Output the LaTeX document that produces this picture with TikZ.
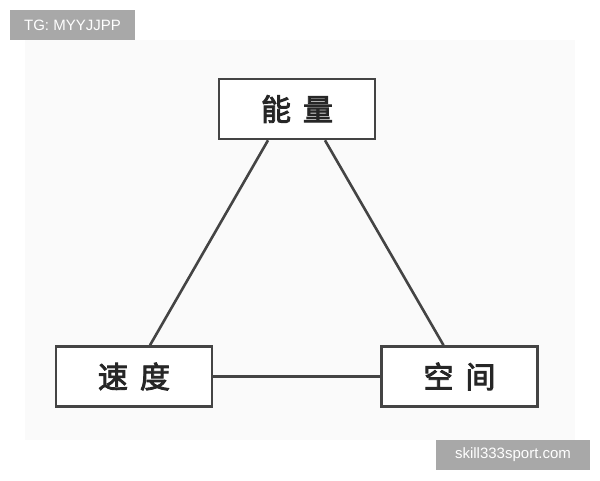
\documentclass[tikz,border=0pt]{standalone}
\usepackage{fontspec}
\newfontfamily\cjk[FakeBold=3]{Noto Sans CJK SC}
\setsansfont{Liberation Sans}
\usetikzlibrary{calc}
\definecolor{ink}{HTML}{444444}
\definecolor{tag}{HTML}{A8A8A8}
\tikzset{
  box/.style={draw=ink, line width=2.6pt, fill=white, minimum width=156pt, minimum height=60pt, inner sep=0pt, font=\cjk\fontsize{30}{30}\selectfont, text=black!85},
  link/.style={draw=ink, line width=2.6pt},
  tagbox/.style={fill=tag, text=white, font=\sffamily\fontsize{15}{15}\selectfont, inner sep=0pt, minimum height=30pt}
}
\begin{document}
\begin{tikzpicture}[x=1pt,y=-1pt]
\useasboundingbox (0,0) rectangle (600,480);
\fill[white] (0,0) rectangle (600,480);
\fill[black!2] (25,40) rectangle (575,440);
\node[box] (ne) at (297,109) {能\hspace{0.4em}量};
\node[box] (sd) at (134,376.5) {速\hspace{0.4em}度};
\node[box] (kj) at (459.5,376.5) {空\hspace{0.4em}间};
\draw[link] ($(ne.south)+(-29,0)$) -- ($(sd.north)+(16,0)$);
\draw[link] ($(ne.south)+(28,0)$) -- ($(kj.north)+(-16,0)$);
\draw[link] (sd.east) -- (kj.west);
\node[tagbox, minimum width=125pt] (tg) at (72.5,25) {TG: MYYJJPP};
\node[tagbox, minimum width=154pt] (sk) at (513,455) {skill333sport.com};
\end{tikzpicture}
\end{document}
